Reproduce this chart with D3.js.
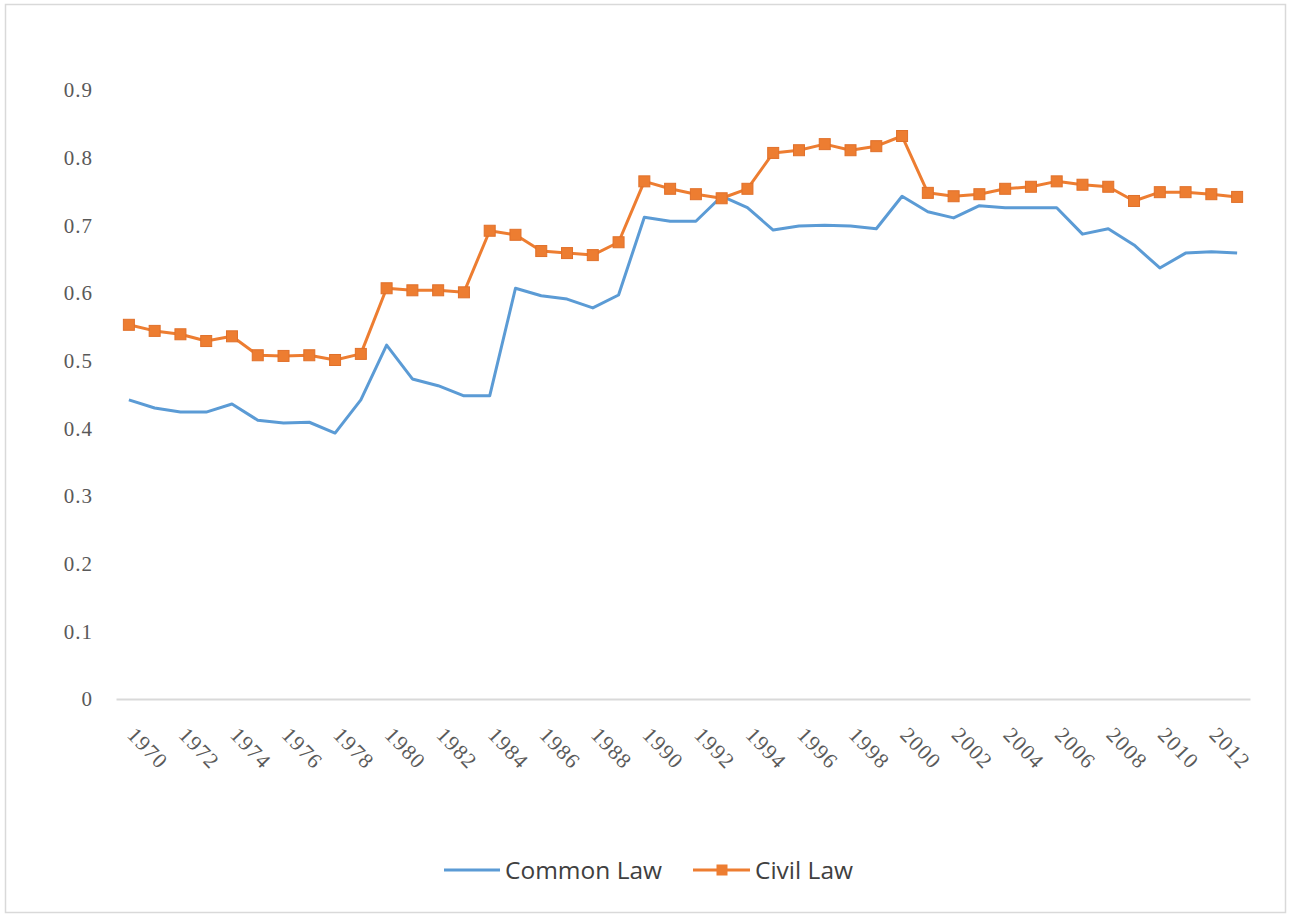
<!DOCTYPE html>
<html><head><meta charset="utf-8">
<script src="https://cdn.jsdelivr.net/npm/d3@7"></script>
<style>body{margin:0;background:#fff}</style>
</head><body>
<svg id="c" width="1290" height="916"></svg>
<script>
const years = d3.range(1970, 2014);
const commonLaw = [0.442,0.430,0.424,0.424,0.436,0.412,0.408,0.409,0.393,0.442,
  0.523,0.473,0.463,0.448,0.448,0.607,0.596,0.591,0.578,0.597,
  0.712,0.706,0.706,0.743,0.726,0.693,0.699,0.700,0.699,0.695,
  0.743,0.720,0.711,0.729,0.726,0.726,0.726,0.687,0.695,0.671,
  0.637,0.659,0.661,0.659];
const civilLaw = [0.553,0.544,0.539,0.529,0.536,0.508,0.507,0.508,0.501,0.510,
  0.607,0.604,0.604,0.601,0.692,0.686,0.662,0.659,0.656,0.675,
  0.765,0.754,0.746,0.740,0.754,0.807,0.811,0.820,0.811,0.817,
  0.832,0.748,0.743,0.746,0.754,0.757,0.765,0.760,0.757,0.736,
  0.749,0.749,0.746,0.742];
const yTicks = [0,0.1,0.2,0.3,0.4,0.5,0.6,0.7,0.8,0.9];
const xTickLabels = years.filter(y => (y - 1970) % 2 === 0);
const seriesNames = ["Common Law", "Civil Law"];

const svg = d3.select("#c");
svg.append("rect").attr("x",5.5).attr("y",4.5).attr("width",1280).attr("height",908)
  .attr("fill","#fff").attr("stroke","#d9d9d9").attr("stroke-width",1.5);

const x = d3.scaleBand().domain(years).range([116,1250]);
const y = d3.scaleLinear().domain([0,0.9]).range([699,90]);
const cx = d => x(d) + x.bandwidth()/2;

// y labels
const yAxis = d3.axisLeft(y).tickValues(yTicks).tickSize(0).tickPadding(0)
  .tickFormat(d => d === 0 ? "0" : d3.format(".1f")(d));
const gy = svg.append("g").attr("transform","translate(93,0)").call(yAxis);
gy.select(".domain").remove();
gy.selectAll("text").attr("font-family","'Liberation Serif', serif").attr("font-size",21)
  .attr("letter-spacing",1).attr("fill","#595959");

// x axis
const xAxis = d3.axisBottom(x).tickValues(xTickLabels).tickSize(0).tickPadding(0);
const gx = svg.append("g").attr("transform","translate(0,699)").call(xAxis);
gx.select(".domain").attr("stroke","#d9d9d9").attr("stroke-width",2);
gx.selectAll("text").attr("font-family","'Liberation Serif', serif").attr("font-size",21.5)
  .attr("letter-spacing",1.2).attr("fill","#595959").attr("text-anchor","start").attr("dy",null).attr("y",0)
  .attr("transform","translate(-3,37) rotate(46)");

const line = d3.line().x((d,i) => cx(years[i])).y(d => y(d));
svg.append("path").datum(commonLaw).attr("d",line).attr("fill","none")
  .attr("stroke","#5b9bd5").attr("stroke-width",3).attr("stroke-linejoin","round");
svg.append("path").datum(civilLaw).attr("d",line).attr("fill","none")
  .attr("stroke","#ed7d31").attr("stroke-width",3).attr("stroke-linejoin","round");
svg.append("g").selectAll("rect").data(civilLaw).join("rect")
  .attr("x",(d,i)=>cx(years[i])-5.5).attr("y",d=>y(d)-5.5)
  .attr("width",11).attr("height",11).attr("fill","#ed7d31").attr("stroke","#e0702a").attr("stroke-width",1);

// legend
const lg = svg.append("g").attr("font-family","'Open Sans', sans-serif").attr("font-size",24.5).attr("fill","#404040");
lg.append("line").attr("x1",444).attr("x2",500).attr("y1",870).attr("y2",870).attr("stroke","#5b9bd5").attr("stroke-width",3);
lg.append("text").attr("x",505).attr("y",879).text(seriesNames[0]);
lg.append("line").attr("x1",693).attr("x2",750).attr("y1",870).attr("y2",870).attr("stroke","#ed7d31").attr("stroke-width",3);
lg.append("rect").attr("x",716.5).attr("y",864.5).attr("width",11).attr("height",11).attr("fill","#ed7d31");
lg.append("text").attr("x",755).attr("y",879).text(seriesNames[1]);
</script>
</body></html>
